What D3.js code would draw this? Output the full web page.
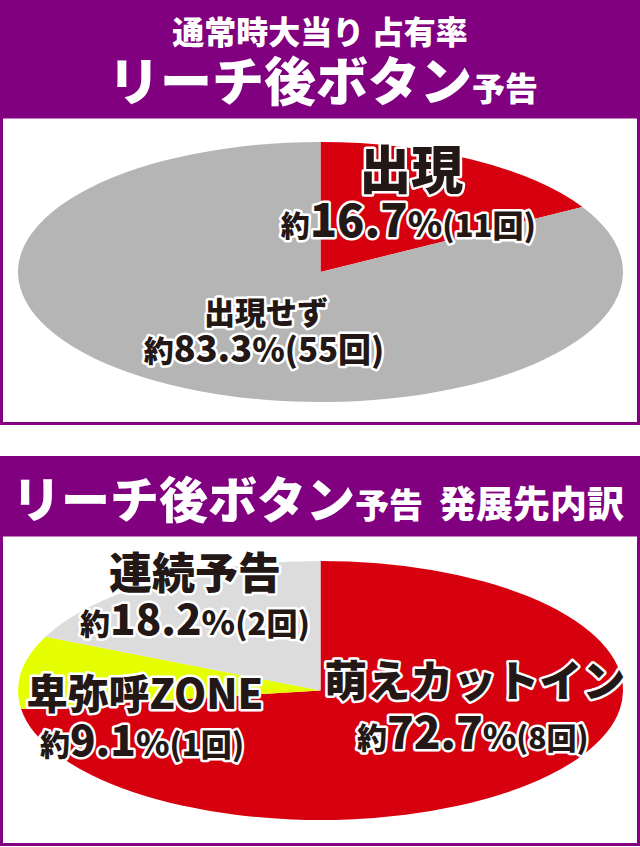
<!DOCTYPE html>
<meta charset="utf-8">
<style>
  body { margin: 0; background: #fff; }
  svg { display: block; font-family: "Noto Sans CJK JP", "Noto Sans", sans-serif; }
  .head { fill: #fff; font-weight: 900; }
  .lbl { fill: #231815; font-weight: 900; stroke: #fff; stroke-width: 5px; stroke-linejoin: round; paint-order: stroke; }
</style>
<svg width="640" height="847"></svg>
<script src="https://d3js.org/d3.v7.min.js"></script>
<script>

// --- data ---
var occNames = ["出現", "出現せず"];
var occCounts = [11, 55];
var occPct = ["16.7", "83.3"];
var occColors = ["#d7000f", "#b5b5b6"];

var devNames = ["萌えカットイン", "卑弥呼ZONE", "連続予告"];
var devCounts = [8, 1, 2];
var devPct = ["72.7", "9.1", "18.2"];
var devColors = ["#d7000f", "#e5ff00", "#dcdcdd"];

var purple = "#800080";

var svg = d3.select("svg"),
    W = +svg.attr("width"),
    H = +svg.attr("height");

// --- headers & panels ---
svg.append("rect").attr("x", 0).attr("y", 0).attr("width", W).attr("height", 118).attr("fill", purple);
svg.append("rect").attr("x", 1.5).attr("y", 117).attr("width", W - 3).attr("height", 306.5)
    .attr("fill", "#fff").attr("stroke", purple).attr("stroke-width", 3);

svg.append("rect").attr("x", 0).attr("y", 456).attr("width", W).attr("height", 80).attr("fill", purple);
svg.append("rect").attr("x", 1.5).attr("y", 535).attr("width", W - 3).attr("height", 309.5)
    .attr("fill", "#fff").attr("stroke", purple).attr("stroke-width", 3);

svg.append("text").attr("class", "head").attr("x", 320).attr("y", 44)
    .attr("text-anchor", "middle").attr("font-size", 32)
    .text("通常時大当り 占有率");

var t1 = svg.append("text").attr("class", "head").attr("x", 323).attr("y", 101)
    .attr("text-anchor", "middle");
t1.append("tspan").attr("font-size", 52).text("リーチ後ボタン");
t1.append("tspan").attr("font-size", 33).text("予告");

var t2 = svg.append("text").attr("class", "head").attr("x", 318).attr("y", 518)
    .attr("text-anchor", "middle");
t2.append("tspan").attr("font-size", 49).text("リーチ後ボタン");
t2.append("tspan").attr("font-size", 34).text("予告");
t2.append("tspan").attr("font-size", 37).attr("dx", 16).text("発展先内訳");

// --- pies (circle pie squashed into an ellipse) ---
var pie = d3.pie().sort(null).value(function (d) { return d; });

function drawPie(cx, cy, rx, ry, counts, colors) {
  var arc = d3.arc().innerRadius(0).outerRadius(rx);
  var g = svg.append("g")
      .attr("transform", "translate(" + cx + "," + cy + ") scale(1," + (ry / rx) + ")");
  g.selectAll("path")
      .data(pie(counts))
      .enter().append("path")
      .attr("d", arc)
      .attr("fill", function (d, i) { return colors[i]; });
  // unit scales to place labels inside the ellipse
  return {
    x: d3.scaleLinear().domain([-1, 1]).range([cx - rx, cx + rx]),
    y: d3.scaleLinear().domain([-1, 1]).range([cy - ry, cy + ry])
  };
}

var s1 = drawPie(320.5, 272, 302.5, 130, occCounts, occColors);
var s2 = drawPie(320.5, 690.5, 302.5, 129.5, devCounts, devColors);

function label(sc, ux, uy, name, pct, count, o) {
  var x = sc.x(ux), y = sc.y(uy);
  svg.append("text").attr("class", "lbl")
      .attr("x", x).attr("y", y)
      .attr("text-anchor", "middle")
      .attr("font-size", o.name)
      .text(name);
  var t = svg.append("text").attr("class", "lbl")
      .attr("x", x + (o.dx || 0)).attr("y", y + o.gap)
      .attr("text-anchor", "middle");
  t.append("tspan").attr("font-size", o.small).text("約");
  t.append("tspan").attr("font-size", o.num).text(pct);
  t.append("tspan").attr("font-size", o.pc).text("%");
  t.append("tspan").attr("font-size", o.par).text("(" + count + "回)");
}

label(s1, 0.30, -0.64, occNames[0], occPct[0], occCounts[0], {name: 52, gap: 48, small: 29, num: 45, pc: 35, par: 31, dx: -3});
label(s1, -0.18, 0.40, occNames[1], occPct[1], occCounts[1], {name: 31, gap: 38, small: 30, num: 36, pc: 33, par: 33, dx: -2});

label(s2, 0.51, 0.05, devNames[0], devPct[0], devCounts[0], {name: 43, gap: 52, small: 30, num: 44, pc: 34, par: 30, dx: -2});
label(s2, -0.58, 0.14, devNames[1], devPct[1], devCounts[1], {name: 41, gap: 47, small: 30, num: 42, pc: 34, par: 31, dx: -3});
label(s2, -0.415, -0.78, devNames[2], devPct[2], devCounts[2], {name: 43, gap: 46, small: 30, num: 42, pc: 34, par: 31});

</script>
